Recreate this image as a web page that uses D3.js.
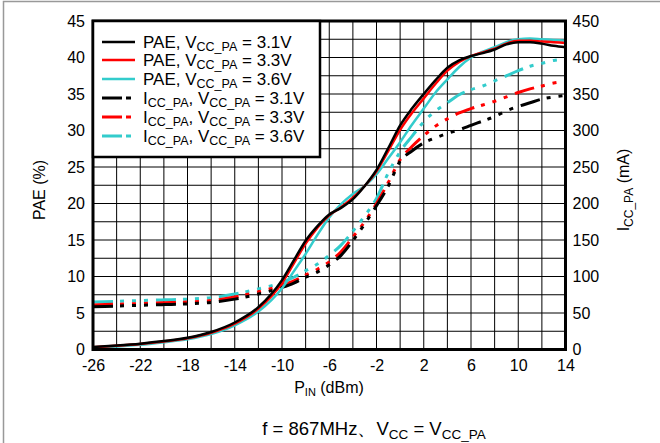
<!DOCTYPE html>
<html><head><meta charset="utf-8">
<script src="https://cdn.jsdelivr.net/npm/d3@7"></script>
<style>
body{margin:0;background:#fff}
svg{display:block}
text{font-family:"Liberation Sans",Arial,sans-serif;fill:#000}
</style>
</head><body>
<svg id="c" width="660" height="443"></svg>
<script>
// ---- data ----
const pin = [-26,-24,-22,-20,-18,-16,-14,-12,-10,-9,-8,-7,-6,-5,-4,-3,-2,-1,0,1,2,3,4,5,6,7,8,9,10,11,12,13,14];
const pae31 = [0.35,0.55,0.8,1.15,1.6,2.4,3.7,5.8,9.5,12.2,14.9,16.9,18.5,19.4,20.6,22.4,24.6,27.6,30.7,33.0,35.0,36.9,38.6,39.6,40.2,40.6,41.1,41.8,42.1,42.1,41.9,41.6,41.4];
const pae33 = [0.3,0.5,0.75,1.1,1.55,2.3,3.55,5.6,9.1,11.8,14.5,16.7,18.4,19.5,20.8,22.4,24.4,27.2,30.1,32.4,34.4,36.4,38.2,39.4,40.2,40.7,41.2,41.9,42.3,42.3,42.2,42.1,42.0];
const pae36 = [0.25,0.42,0.65,1.0,1.4,2.1,3.3,5.2,8.4,10.7,13.1,15.7,18.1,19.9,21.3,22.4,24.0,26.2,28.4,30.8,33.0,35.2,37.0,38.7,40.0,40.8,41.4,42.1,42.5,42.6,42.5,42.4,42.3];
const icc31 = [58.5,59.5,60.5,61.5,62.5,64.5,69,76,85,91,99,106,116,129,149,172,197,224,258,272,283,290,296,301,307,313,319,327,333,338,343,346,348];
const icc33 = [61,62,63,64,65,67,72,79,88,94,102,110,120,134,154,175,200,229,260,278,293,306,316,324,330,335,340,346,352,357,361,365,367];
const icc36 = [65,66,67,68,69,71,76,83,92,99,108,117,129,143,162,183,207,242,271,292,312,327,338,349,356,361,368,375,382,388,392,396,398];
const xTicks = [-26,-22,-18,-14,-10,-6,-2,2,6,10,14];
const yLeftTicks = [0,5,10,15,20,25,30,35,40,45];
const yRightTicks = [0,50,100,150,200,250,300,350,400,450];
const voltages = ["3.1V","3.3V","3.6V"];
const colors = ["#000000","#ff0000","#33cccc"];

// ---- layout ----
const svg = d3.select("#c");
const X0 = 93, X1 = 565.5, Y0 = 349.5, Y1 = 21;
const x = d3.scaleLinear().domain([-26,14]).range([X0,X1]);
const yL = d3.scaleLinear().domain([0,45]).range([Y0,Y1]);
const yR = d3.scaleLinear().domain([0,450]).range([Y0,Y1]);

// outer frame (top and left)
svg.append("path").attr("d","M3.5,443 V1.5 H660").attr("fill","none").attr("stroke","#999").attr("stroke-width",1.5);

// grid
const g = svg.append("g");
g.selectAll(".vg").data(d3.range(-24,14,2)).enter().append("line")
  .attr("x1",d=>x(d)).attr("x2",d=>x(d)).attr("y1",Y1).attr("y2",Y0)
  .attr("stroke","#000").attr("stroke-width",1);
g.selectAll(".hg").data(d3.range(2.5,45,2.5)).enter().append("line")
  .attr("x1",X0).attr("x2",X1).attr("y1",d=>yL(d)).attr("y2",d=>yL(d))
  .attr("stroke","#000").attr("stroke-width",1);

// axes labels via d3 axes (no tick lines)
const fmt = d=>String(d);
const axL = svg.append("g").attr("transform",`translate(${X0-8},0)`)
  .call(d3.axisLeft(yL).tickValues(yLeftTicks).tickFormat(fmt).tickSize(0).tickPadding(0));
const axR = svg.append("g").attr("transform",`translate(${X1+7},0)`)
  .call(d3.axisRight(yR).tickValues(yRightTicks).tickFormat(fmt).tickSize(0).tickPadding(0));
const axB = svg.append("g").attr("transform",`translate(0,${Y0+10})`)
  .call(d3.axisBottom(x).tickValues(xTicks).tickFormat(fmt).tickSize(0).tickPadding(0));
[axL,axR,axB].forEach(a=>{
  a.select(".domain").remove();
  a.selectAll("text").attr("font-size",16).attr("font-family","Liberation Sans, Arial, sans-serif").attr("fill","#000");
});
axB.selectAll("text").attr("dy","0.71em");

// curves
const pae = [pae31,pae33,pae36];
const icc = [icc31,icc33,icc36];
const lineL = d3.line().x((d,i)=>x(pin[i])).y(d=>yL(d)).curve(d3.curveMonotoneX);
const lineR = d3.line().x((d,i)=>x(pin[i])).y(d=>yR(d)).curve(d3.curveMonotoneX);
const dash = "20,7,4,8,4,8,4,8";
const cg = svg.append("g");
[2,1,0].forEach(k=>{
  cg.append("path").attr("d",lineR(icc[k])).attr("fill","none")
    .attr("stroke",colors[k]).attr("stroke-width",3).attr("stroke-dasharray",dash);
});
[2,1,0].forEach(k=>{
  cg.append("path").attr("d",lineL(pae[k])).attr("fill","none")
    .attr("stroke",colors[k]).attr("stroke-width",2.5);
});

// plot frame
svg.append("rect").attr("x",X0).attr("y",Y1).attr("width",X1-X0).attr("height",Y0-Y1)
  .attr("fill","none").attr("stroke","#000").attr("stroke-width",3);

// rich text helper
function rich(sel, parts, size, subSize, sh){
  sh = sh || 4;
  let shift = 0;
  parts.forEach(p=>{
    const t = sel.append("tspan").text(p[0]);
    if(p[1]){ t.attr("font-size",subSize).attr("dy",sh-shift); shift=sh; }
    else { t.attr("font-size",size).attr("dy",-shift); shift=0; }
  });
}

// legend
const lg = svg.append("g");
lg.append("rect").attr("x",X0).attr("y",Y1).attr("width",227).attr("height",136)
  .attr("fill","#fff").attr("stroke","#000").attr("stroke-width",2.5);
const rowY = [42,60,79,98,117,136];
for(let r=0;r<6;r++){
  const k = r%3, isI = r>=3;
  lg.append("line").attr("x1",102).attr("x2",135).attr("y1",rowY[r]).attr("y2",rowY[r])
    .attr("stroke",colors[k]).attr("stroke-width",isI?3:2.5)
    .attr("stroke-dasharray",isI?"20,4,5,10":null);
  const t = lg.append("text").attr("x",143).attr("y",rowY[r]+6);
  const parts = isI
    ? [["I"],["CC_PA",1],[", V"],["CC_PA",1],[" = "+voltages[k]]]
    : [["PAE, V"],["CC_PA",1],[" = "+voltages[k]]];
  rich(t, parts, 17, 12.5, 3);
}

// axis titles
const tl = svg.append("text").attr("transform","translate(45,190) rotate(-90)").attr("text-anchor","middle");
rich(tl, [["PAE (%)"]], 16, 12);
const tr = svg.append("text").attr("transform","translate(629,190) rotate(-90)").attr("text-anchor","middle");
rich(tr, [["I"],["CC_PA",1],[" (mA)"]], 16, 12);
const tb = svg.append("text").attr("x",329).attr("y",393).attr("text-anchor","middle");
rich(tb, [["P"],["IN",1],[" (dBm)"]], 16, 11, 3);
const ts = svg.append("text").attr("x",374).attr("y",435).attr("text-anchor","middle");
rich(ts, [["f = 867MHz、V"],["CC",1],[" = V"],["CC_PA",1]], 18.5, 13.5, 3.5);
</script>
</body></html>
